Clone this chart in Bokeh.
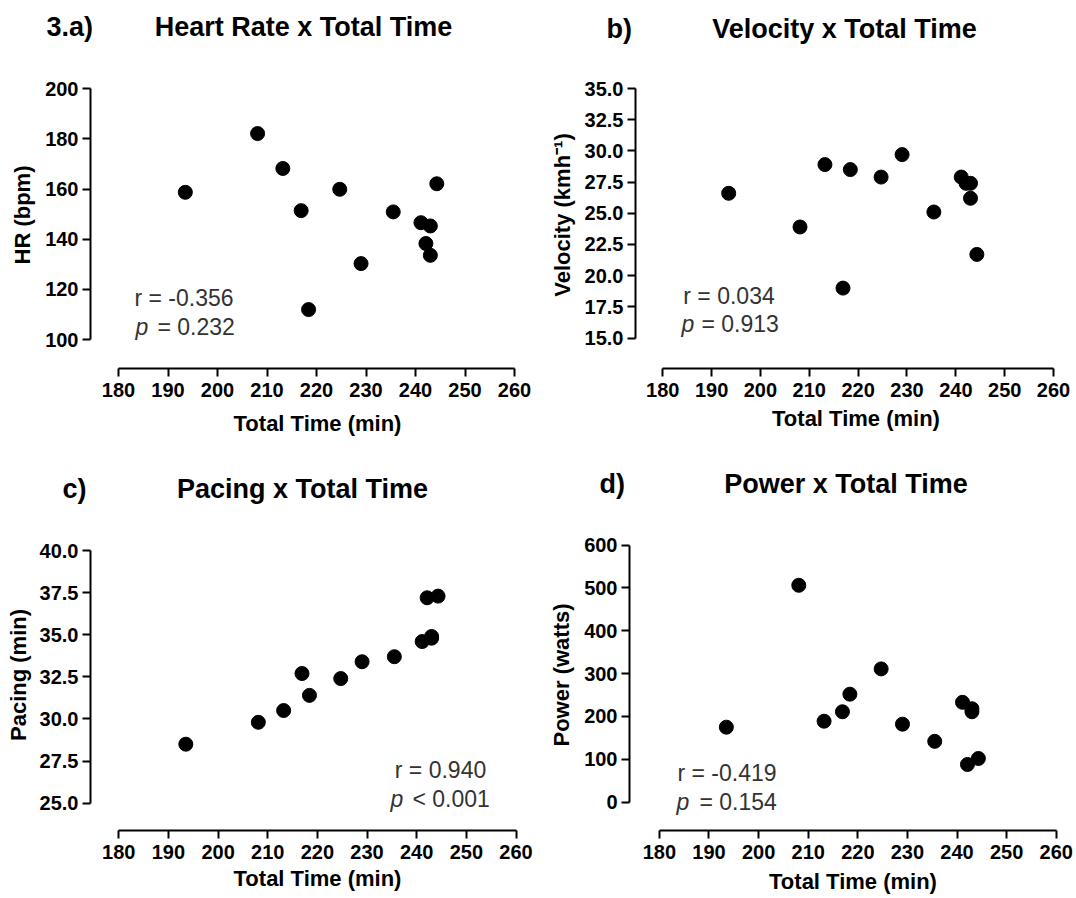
from bokeh.plotting import figure
from bokeh.models import FixedTicker, PrintfTickFormatter, Label, Range1d
from bokeh.layouts import column, row
from bokeh.core.properties import value
from bokeh.embed import file_html
from bokeh.resources import INLINE

# ---------------- data ----------------
total_time = [193.5, 208.1, 213.2, 216.9, 218.4, 224.7, 229.0, 235.5, 241.1, 242.1, 243.0, 243.0, 244.3]
heart_rate = [158.7, 182.1, 168.2, 151.4, 112.0, 159.9, 130.3, 150.9, 146.6, 138.3, 145.3, 133.6, 162.1]
velocity = [26.6, 23.9, 28.9, 19.0, 28.5, 27.9, 29.7, 25.1, 27.9, 27.4, 27.4, 26.2, 21.7]
pacing = [28.5, 29.8, 30.5, 32.7, 31.4, 32.4, 33.4, 33.7, 34.6, 37.2, 34.8, 34.9, 37.3]
power = [175, 506, 189, 211, 252, 311, 182, 142, 233, 88, 218, 211, 102]

x_ticks = [180, 190, 200, 210, 220, 230, 240, 250, 260]
hr_ticks = [100, 120, 140, 160, 180, 200]
vel_ticks = [15.0, 17.5, 20.0, 22.5, 25.0, 27.5, 30.0, 32.5, 35.0]
pace_ticks = [25.0, 27.5, 30.0, 32.5, 35.0, 37.5, 40.0]
power_ticks = [0, 100, 200, 300, 400, 500, 600]

panel_letters = ["3.a)", "b)", "c)", "d)"]
panel_titles = ["Heart Rate x Total Time", "Velocity x Total Time",
                "Pacing x Total Time", "Power x Total Time"]
stats = {
    "a": ("r = -0.356", "p", "= 0.232"),
    "b": ("r = 0.034", "p", "= 0.913"),
    "c": ("r = 0.940", "p", "< 0.001"),
    "d": ("r = -0.419", "p", "= 0.154"),
}

FONT = "Liberation Sans"
ANN = "#333333"


def header(fig_box, letter, letter_pos, title, title_pos):
    fl, ft, W, H = fig_box
    h = figure(width=W, height=H, x_range=Range1d(0, W), y_range=Range1d(H, 0),
               toolbar_location=None, output_backend="svg", title=None,
               min_border_left=0, min_border_right=0, min_border_top=0, min_border_bottom=0)
    h.axis.visible = False
    h.grid.visible = False
    h.outline_line_color = None
    h.text(x=[letter_pos[0] - fl], y=[letter_pos[1] - ft], text=[letter],
           text_font=value(FONT), text_font_size="27px", text_font_style="bold",
           text_align="left", text_baseline="middle", text_color="black")
    h.text(x=[title_pos[0] - fl], y=[title_pos[1] - ft], text=[title],
           text_font=value(FONT), text_font_size="27px", text_font_style="bold",
           text_align="center", text_baseline="middle", text_color="black")
    return h


def panel(fig_box, frame, xref, yref, xs, ys, yticks, yfmt, ylabel, ylabel_standoff,
          xlabel_standoff, st, r_pos, p_pos, eq_pos):
    fl, ft, W, H = fig_box
    L, T, R, B = frame
    (xv1, xp1), (xv2, xp2) = xref
    (yv1, yp1), (yv2, yp2) = yref
    kx = (xp2 - xp1) / (xv2 - xv1)
    ky = (yp2 - yp1) / (yv2 - yv1)
    x0 = xv1 + (L - xp1) / kx
    x1 = xv1 + (R - xp1) / kx
    y0 = yv1 + (B - yp1) / ky
    y1 = yv1 + (T - yp1) / ky

    p = figure(width=W, height=H, x_range=Range1d(x0, x1), y_range=Range1d(y0, y1),
               toolbar_location=None, output_backend="svg", title=None,
               min_border_left=L - fl, min_border_right=fl + W - R,
               min_border_top=T - ft, min_border_bottom=ft + H - B)
    p.outline_line_color = None
    p.xgrid.visible = False
    p.ygrid.visible = False
    p.background_fill_color = "white"
    p.border_fill_color = "white"

    p.scatter(xs, ys, size=14, color="black", line_color="black")

    for ax in (p.xaxis[0], p.yaxis[0]):
        ax.axis_line_width = 2
        ax.axis_line_color = "black"
        ax.major_tick_line_width = 2
        ax.major_tick_line_color = "black"
        ax.major_tick_out = 8
        ax.major_tick_in = 0
        ax.minor_tick_out = 0
        ax.minor_tick_in = 0
        ax.major_label_text_font = FONT
        ax.major_label_text_font_size = "20px"
        ax.major_label_text_font_style = "bold"
        ax.major_label_text_color = "black"
        ax.axis_label_text_font = FONT
        ax.axis_label_text_font_size = "22px"
        ax.axis_label_text_font_style = "bold"
        ax.axis_label_text_color = "black"

    xa = p.xaxis[0]
    xa.ticker = FixedTicker(ticks=x_ticks)
    xa.bounds = (x_ticks[0], x_ticks[-1])
    xa.major_label_standoff = 6
    xa.axis_label = "Total Time (min)"
    xa.axis_label_standoff = xlabel_standoff

    ya = p.yaxis[0]
    ya.ticker = FixedTicker(ticks=yticks)
    ya.bounds = (yticks[0], yticks[-1])
    ya.formatter = PrintfTickFormatter(format=yfmt)
    ya.major_label_standoff = 4
    ya.axis_label = ylabel
    ya.axis_label_standoff = ylabel_standoff

    def lab(sx, sy, text, style, align):
        p.add_layout(Label(x=sx - L, y=B - sy, x_units="screen", y_units="screen",
                           text=text, text_font=FONT, text_font_size="23px",
                           text_font_style=style, text_align=align,
                           text_baseline="middle", text_color=ANN))

    lab(r_pos[0], r_pos[1], st[0], "normal", "center")
    lab(p_pos[0], p_pos[1], st[1], "italic", "left")
    lab(eq_pos[0], eq_pos[1], st[2], "normal", "left")
    return p


ha = header((0, 0, 546, 55), panel_letters[0], (46, 26), panel_titles[0], (303, 26))
hb = header((546, 0, 530, 55), panel_letters[1], (606, 28), panel_titles[1], (844, 28))
hc = header((0, 460, 546, 55), panel_letters[2], (62, 488), panel_titles[2], (302, 488))
hd = header((546, 460, 530, 55), panel_letters[3], (599, 483), panel_titles[3], (845.5, 483))

pa = panel((0, 55, 546, 405), (90, 60, 544, 369),
           ((180, 118), (260, 514)), ((100, 340), (200, 87.3)),
           total_time, heart_rate, hr_ticks, "%d", "HR (bpm)", 7, 11,
           stats["a"], (183.5, 298), (135, 327), (157, 327))

pb = panel((546, 55, 530, 405), (634, 61, 1076, 368),
           ((180, 661.3), (260, 1053)), ((15, 337.5), (35, 88)),
           total_time, velocity, vel_ticks, "%.1f", "Velocity (kmh\u207b\u00b9)", 7, 6,
           stats["b"], (727.5, 295), (680, 323), (700, 323))

pc = panel((0, 515, 546, 383), (90, 519, 544, 833),
           ((180, 118.3), (260, 515.5)), ((25, 805.3), (40, 550.5)),
           total_time, pacing, pace_ticks, "%.1f", "Pacing (min)", 6, 4,
           stats["c"], (440, 772), (390, 801), (412, 801))

pd_ = panel((546, 515, 530, 383), (627, 519, 1076, 830),
            ((180, 657), (260, 1055.7)), ((0, 801.7), (600, 544.5)),
            total_time, power, power_ticks, "%d", "Power (watts)", 7, 7,
            stats["d"], (724.5, 772), (674, 801), (697, 801))

layout = column(row(ha, hb), row(pa, pb), row(hc, hd), row(pc, pd_))
open("out.html", "w").write(file_html(layout, INLINE))
